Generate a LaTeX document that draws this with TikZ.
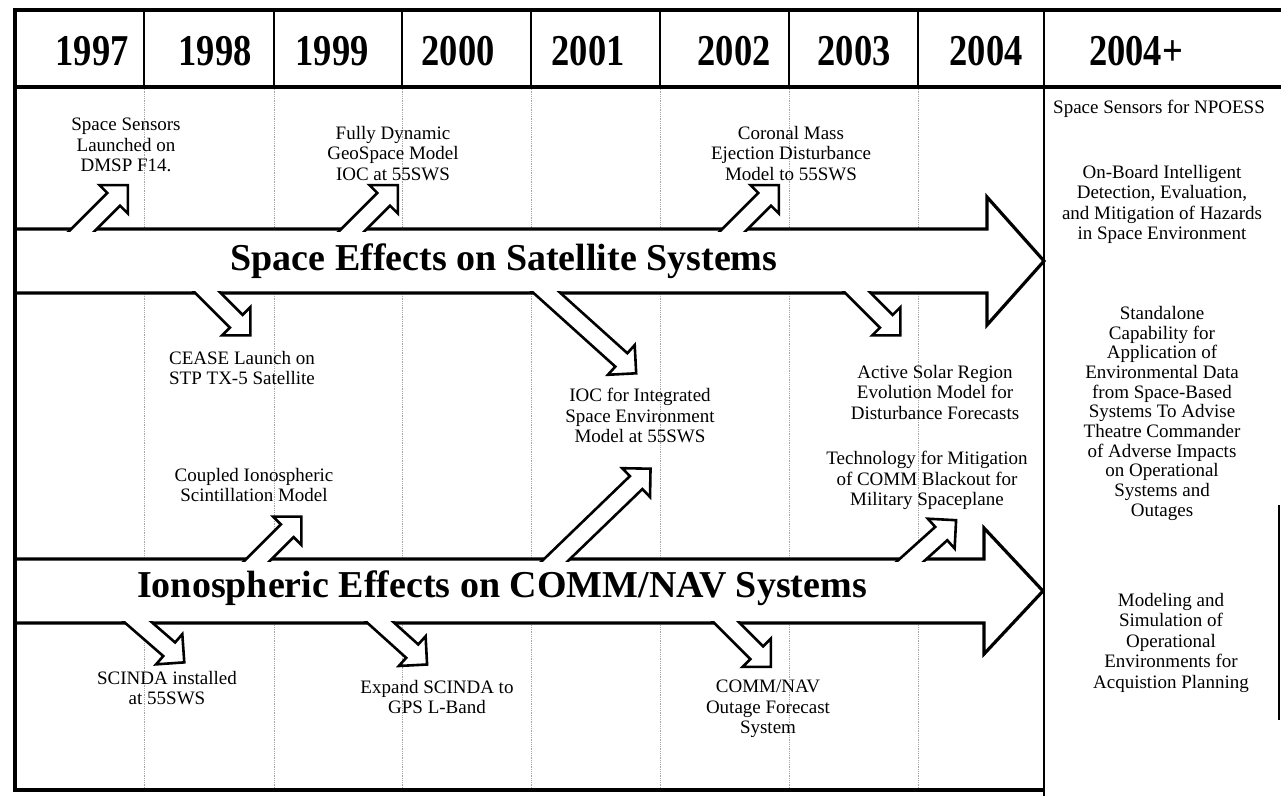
\documentclass[tikz,border=0pt]{standalone}
\usepackage{fontspec}
\setmainfont{Liberation Serif}
\newfontfamily\yearfont{Liberation Serif}[FakeStretch=0.83]

\begin{document}
\begin{tikzpicture}[x=1pt, y=-1pt,
    bigarrow/.style   = {draw, fill=white, line width=3.2pt, line join=miter},
    smallarrow/.style = {draw, fill=white, line width=2.6pt, line join=miter},
    colline/.style    = {gray!70, line width=0.8pt, densely dotted},
    lbl/.style        = {font=\fontsize{19}{20.5}\selectfont, align=center, inner sep=0pt, anchor=north},
    bandtitle/.style  = {font=\fontsize{38}{38}\selectfont\bfseries, inner sep=0pt, anchor=base},
    yearlbl/.style    = {font=\yearfont\fontsize{44}{44}\selectfont\bfseries, inner sep=0pt, anchor=base}]
    \useasboundingbox (0,0) rectangle (1281,796);

    % column lines below the header
    \foreach \cx in {144, 274, 402, 531, 660, 789, 918}{
      \draw[colline] (\cx,87) -- (\cx,790);
      \draw[line width=2.5pt] (\cx,10) -- (\cx,87);
    }

    % the two big bands
    \draw[bigarrow] (15,229) -- (987,229) -- (987,197) -- (1044,261) -- (987,325) -- (987,293) -- (15,293) -- cycle;
    \draw[bigarrow] (15,559) -- (984,559) -- (984,528) -- (1043,591) -- (984,654) -- (984,623) -- (15,623) -- cycle;

    % small arrows leaving the bands
    \foreach \bx/\by/\ang/\len in {84/229/45/62, 354/229/45/62, 735/229/45/62,
                                   259/559/45/60, 557/559/44/130, 913/559/42/58}{
      \begin{scope}
        \clip (\bx-80,\by+2) rectangle (\bx+160,\by-200);
        \path[smallarrow, shift={(\bx,\by)}, rotate=\ang]
          (-20,-9) -- (\len-20,-9) -- (\len-20,-20) -- (\len,0) -- (\len-20,20) -- (\len-20,9) -- (-20,9) -- cycle;
      \end{scope}
    }
    \foreach \bx/\by/\ang/\len in {208/293/-45/60, 547/293/-42/120, 858/293/-45/60,
                                   139/623/-41/60, 381/623/-42/62, 727/623/-45/62}{
      \begin{scope}
        \clip (\bx-80,\by-2) rectangle (\bx+160,\by+200);
        \path[smallarrow, shift={(\bx,\by)}, rotate=\ang]
          (-20,-9) -- (\len-20,-9) -- (\len-20,-20) -- (\len,0) -- (\len-20,20) -- (\len-20,9) -- (-20,9) -- cycle;
      \end{scope}
    }

    \node[bandtitle] (sat) at (504,270) {Space Effects on Satellite Systems};
    \node[bandtitle] (iono) at (502,597) {Ionospheric Effects on COMM/NAV Systems};

    \node[lbl] (sens)    at (126,118) {Space Sensors\\Launched on\\DMSP F14.};
    \node[lbl] (geo)     at (393,126) {Fully Dynamic\\GeoSpace Model\\IOC at 55SWS};
    \node[lbl] (cme)     at (791,126) {Coronal Mass\\Ejection Disturbance\\Model to 55SWS};
    \node[lbl] (cease)   at (242,351) {CEASE Launch on\\STP TX-5 Satellite};
    \node[lbl] (ioc)     at (640,388) {IOC for Integrated\\Space Environment\\Model at 55SWS};
    \node[lbl] (solar)   at (935,365) {Active Solar Region\\Evolution Model for\\Disturbance Forecasts};
    \node[lbl] (tech)    at (927,451) {Technology for Mitigation\\of COMM Blackout for\\Military Spaceplane};
    \node[lbl] (coupled) at (254,468) {Coupled Ionospheric\\Scintillation Model};
    \node[lbl] (scinda)  at (167,671) {SCINDA installed\\at 55SWS};
    \node[lbl] (expand)  at (437,680) {Expand SCINDA to\\GPS L-Band};
    \node[lbl] (outage)  at (768,680) {COMM/NAV\\Outage Forecast\\System};

    \node[lbl] (npoess)  at (1159,100) {Space Sensors for NPOESS};
    \node[lbl] (onboard) at (1162,165) {On-Board Intelligent\\Detection, Evaluation,\\and Mitigation of Hazards\\in Space Environment};
    \node[lbl, font=\fontsize{19}{19.7}\selectfont] (standalone) at (1162,306)
      {Standalone\\Capability for\\Application of\\Environmental Data\\from Space-Based\\Systems To Advise\\Theatre Commander\\of Adverse Impacts\\on Operational\\Systems and\\Outages};
    \node[lbl] (modeling) at (1171,593) {Modeling and\\Simulation of\\Operational\\Environments for\\Acquistion Planning};

    % header and frame
    \foreach \yr/\cx in {1997/92, 1998/215, 1999/332, 2000/458, 2001/588, 2002/734, 2003/854, 2004/986, 2004+/1136}{
      \node[yearlbl] (y\yr) at (\cx,65) {\yr};
    }
    \draw[line width=4pt] (1281,10) -- (15,10) -- (15,790) -- (1044,790);
    \draw[line width=4pt] (15,87) -- (1281,87);
    \draw[line width=2.5pt] (1044,10) -- (1044,796);
    \draw[line width=2pt] (1279,505) -- (1279,720);
  \end{tikzpicture}
\end{document}
